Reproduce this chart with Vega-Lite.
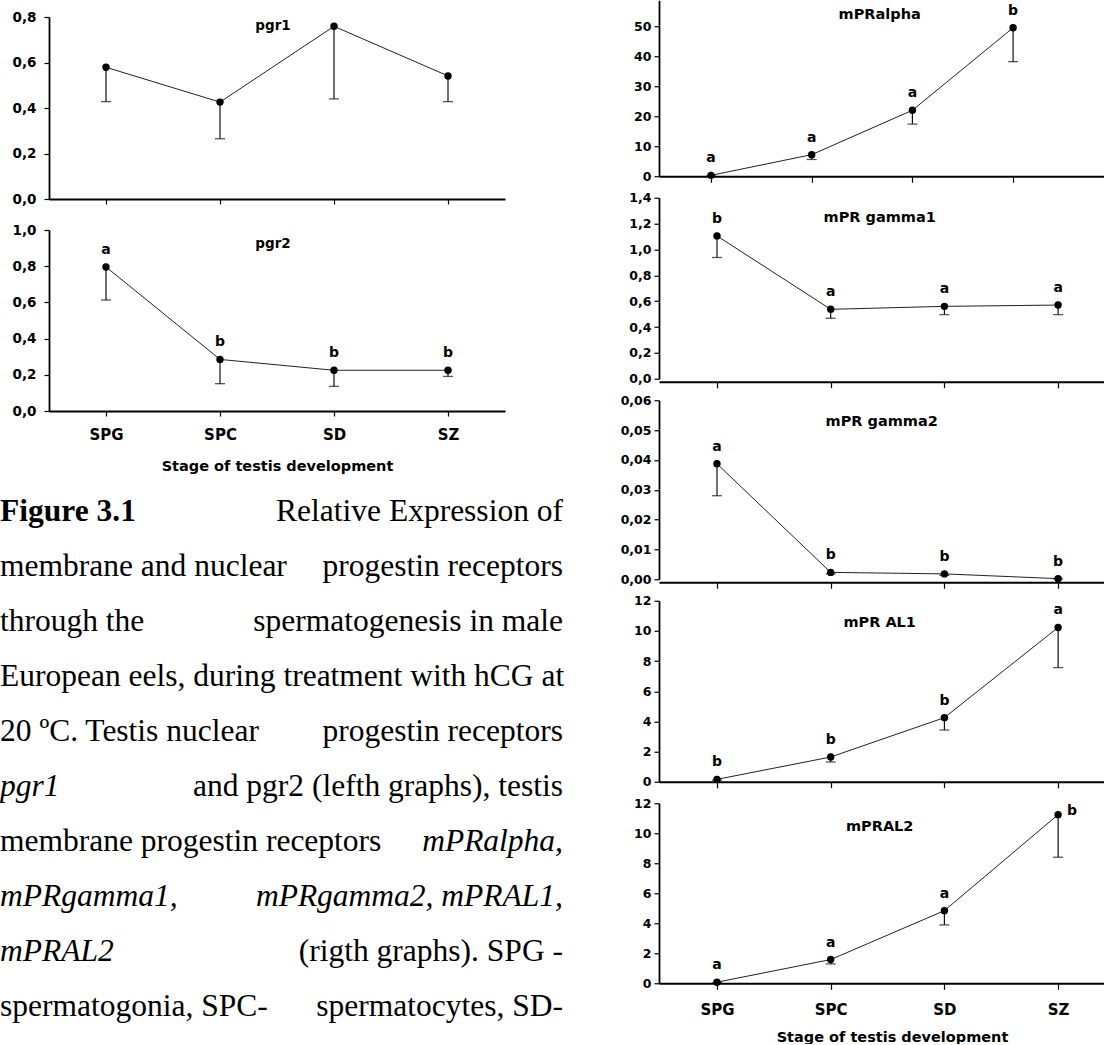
{
  "$schema": "https://vega.github.io/schema/vega-lite/v6.json",
  "padding": 0,
  "background": "white",
  "datasets": {
    "expr": [
      {"gene": "pgr1", "stage": "SPG", "mean": 0.579, "lower": 0.428, "letter": ""},
      {"gene": "pgr1", "stage": "SPC", "mean": 0.426, "lower": 0.265, "letter": ""},
      {"gene": "pgr1", "stage": "SD", "mean": 0.759, "lower": 0.44, "letter": ""},
      {"gene": "pgr1", "stage": "SZ", "mean": 0.541, "lower": 0.428, "letter": ""},
      {"gene": "pgr2", "stage": "SPG", "mean": 0.796, "lower": 0.613, "letter": "a"},
      {"gene": "pgr2", "stage": "SPC", "mean": 0.285, "lower": 0.151, "letter": "b"},
      {"gene": "pgr2", "stage": "SD", "mean": 0.225, "lower": 0.136, "letter": "b"},
      {"gene": "pgr2", "stage": "SZ", "mean": 0.225, "lower": 0.191, "letter": "b"},
      {"gene": "mPRalpha", "stage": "SPG", "mean": 0.3, "lower": 0.1, "letter": "a"},
      {"gene": "mPRalpha", "stage": "SPC", "mean": 7.2, "lower": 5.6, "letter": "a"},
      {"gene": "mPRalpha", "stage": "SD", "mean": 22.0, "lower": 17.4, "letter": "a"},
      {"gene": "mPRalpha", "stage": "SZ", "mean": 49.5, "lower": 38.2, "letter": "b"},
      {"gene": "mPR gamma1", "stage": "SPG", "mean": 1.105, "lower": 0.938, "letter": "b"},
      {"gene": "mPR gamma1", "stage": "SPC", "mean": 0.537, "lower": 0.468, "letter": "a"},
      {"gene": "mPR gamma1", "stage": "SD", "mean": 0.56, "lower": 0.496, "letter": "a"},
      {"gene": "mPR gamma1", "stage": "SZ", "mean": 0.57, "lower": 0.496, "letter": "a"},
      {"gene": "mPR gamma2", "stage": "SPG", "mean": 0.0387, "lower": 0.028, "letter": "a"},
      {"gene": "mPR gamma2", "stage": "SPC", "mean": 0.0023, "lower": 0.0018, "letter": "b"},
      {"gene": "mPR gamma2", "stage": "SD", "mean": 0.0018, "lower": 0.0013, "letter": "b"},
      {"gene": "mPR gamma2", "stage": "SZ", "mean": 0.0002, "lower": 0.0001, "letter": "b"},
      {"gene": "mPR AL1", "stage": "SPG", "mean": 0.16, "lower": 0.1, "letter": "b"},
      {"gene": "mPR AL1", "stage": "SPC", "mean": 1.64, "lower": 1.31, "letter": "b"},
      {"gene": "mPR AL1", "stage": "SD", "mean": 4.25, "lower": 3.43, "letter": "b"},
      {"gene": "mPR AL1", "stage": "SZ", "mean": 10.23, "lower": 7.57, "letter": "a"},
      {"gene": "mPRAL2", "stage": "SPG", "mean": 0.07, "lower": 0.03, "letter": "a"},
      {"gene": "mPRAL2", "stage": "SPC", "mean": 1.58, "lower": 1.29, "letter": "a"},
      {"gene": "mPRAL2", "stage": "SD", "mean": 4.84, "lower": 3.89, "letter": "a"},
      {"gene": "mPRAL2", "stage": "SZ", "mean": 11.24, "lower": 8.4, "letter": "b"}
    ],
    "caption": [
      {"line": 1, "part": "start", "role": "label", "text": "Figure 3.1"},
      {"line": 1, "part": "end", "role": "text", "text": "Relative Expression of"},
      {"line": 2, "part": "start", "role": "text", "text": "membrane and nuclear"},
      {"line": 2, "part": "end", "role": "text", "text": "progestin receptors"},
      {"line": 3, "part": "start", "role": "text", "text": "through the"},
      {"line": 3, "part": "end", "role": "text", "text": "spermatogenesis in male"},
      {"line": 4, "part": "start", "role": "text", "text": "European eels, during treatment with hCG at"},
      {"line": 5, "part": "start", "role": "text", "text": "20 ºC. Testis nuclear"},
      {"line": 5, "part": "end", "role": "text", "text": "progestin receptors"},
      {"line": 6, "part": "start", "role": "gene", "text": "pgr1"},
      {"line": 6, "part": "end", "role": "text", "text": "and pgr2 (lefth graphs), testis"},
      {"line": 7, "part": "start", "role": "text", "text": "membrane progestin receptors"},
      {"line": 7, "part": "end", "role": "gene", "text": "mPRalpha,"},
      {"line": 8, "part": "start", "role": "gene", "text": "mPRgamma1,"},
      {"line": 8, "part": "end", "role": "gene", "text": "mPRgamma2, mPRAL1,"},
      {"line": 9, "part": "start", "role": "gene", "text": "mPRAL2"},
      {"line": 9, "part": "end", "role": "text", "text": "(rigth graphs). SPG -"},
      {"line": 10, "part": "start", "role": "text", "text": "spermatogonia, SPC-"},
      {"line": 10, "part": "end", "role": "text", "text": "spermatocytes, SD-"}
    ]
  },
  "spacing": 49,
  "center": true,
  "hconcat": [
    {
      "spacing": 17,
      "vconcat": [
        {
          "width": 456, "height": 182,
          "data": {"name": "expr"},
          "transform": [{"filter": "datum.gene === 'pgr1'"}],
          "encoding": {
            "x": {"field": "stage", "type": "ordinal", "sort": ["SPG", "SPC", "SD", "SZ"], "scale": {"type": "point", "padding": 0.5}, "axis": {"labels": false, "title": null, "tickSize": 5}},
            "y": {"field": "mean", "type": "quantitative", "scale": {"domain": [0, 0.8], "nice": false}, "axis": {"values": [0, 0.2, 0.4, 0.6, 0.8], "format": ".1f", "title": null, "labelFontSize": 13.5, "minExtent": 49, "maxExtent": 49, "tickSize": 5, "labelPadding": 8}}
          },
          "layer": [
            {"mark": {"type": "line", "color": "#222", "strokeWidth": 1}, "encoding": {}},
            {"mark": {"type": "rule", "color": "#111", "strokeWidth": 1.2}, "encoding": {"y2": {"field": "lower"}}},
            {"mark": {"type": "tick", "color": "#111", "thickness": 1.3, "size": 10}, "encoding": {"y": {"field": "lower", "type": "quantitative"}}},
            {"mark": {"type": "circle", "color": "#000", "size": 55, "opacity": 1}, "encoding": {}},
            {"transform": [{"filter": "datum.stage === 'SPC'"}], "mark": {"type": "text", "font": "DejaVu Sans", "fontWeight": "bold", "fontSize": 13.5, "color": "#000", "align": "center", "baseline": "middle", "dx": 53, "dy": 9}, "encoding": {"y": {"datum": 0.8}, "text": {"field": "gene"}}}
          ]
        },
        {
          "width": 456, "height": 181,
          "data": {"name": "expr"},
          "transform": [{"filter": "datum.gene === 'pgr2'"}],
          "encoding": {
            "x": {"field": "stage", "type": "ordinal", "sort": ["SPG", "SPC", "SD", "SZ"], "scale": {"type": "point", "padding": 0.5}, "axis": {"title": "Stage of testis development", "labelAngle": 0, "labelFontSize": 15, "titleFontSize": 14.5, "tickSize": 5, "labelPadding": 11, "titlePadding": 17}},
            "y": {"field": "mean", "type": "quantitative", "scale": {"domain": [0, 1.0], "nice": false}, "axis": {"values": [0, 0.2, 0.4, 0.6, 0.8, 1.0], "format": ".1f", "title": null, "labelFontSize": 13.5, "minExtent": 49, "maxExtent": 49, "tickSize": 5, "labelPadding": 8}}
          },
          "layer": [
            {"mark": {"type": "line", "color": "#222", "strokeWidth": 1}, "encoding": {}},
            {"mark": {"type": "rule", "color": "#111", "strokeWidth": 1.2}, "encoding": {"y2": {"field": "lower"}}},
            {"mark": {"type": "tick", "color": "#111", "thickness": 1.3, "size": 10}, "encoding": {"y": {"field": "lower", "type": "quantitative"}}},
            {"mark": {"type": "circle", "color": "#000", "size": 55, "opacity": 1}, "encoding": {}},
            {"mark": {"type": "text", "font": "DejaVu Sans", "fontWeight": "bold", "fontSize": 14, "dy": -17, "color": "#000"}, "encoding": {"text": {"field": "letter"}}},
            {"transform": [{"filter": "datum.stage === 'SPC'"}], "mark": {"type": "text", "font": "DejaVu Sans", "fontWeight": "bold", "fontSize": 13.5, "color": "#000", "align": "center", "baseline": "middle", "dx": 53, "dy": 14}, "encoding": {"y": {"datum": 1.0}, "text": {"field": "gene"}}}
          ]
        },
        {
          "width": 508, "height": 537,
          "data": {"name": "caption"},
          "encoding": {
            "x": {"field": "part", "type": "nominal", "scale": {"type": "point", "domain": ["start", "end"], "range": [-49, 514], "padding": 0}, "axis": null},
            "y": {"field": "line", "type": "ordinal", "scale": {"type": "point", "padding": 0.382, "align": 0.738}, "axis": null},
            "text": {"field": "text"}
          },
          "layer": [
            {"transform": [{"filter": "datum.part === 'start' && datum.role === 'label'"}], "mark": {"type": "text", "align": "left", "baseline": "alphabetic", "font": "Liberation Serif", "fontSize": 31.5, "fontWeight": "bold", "color": "#000"}},
            {"transform": [{"filter": "datum.part === 'start' && datum.role === 'text'"}], "mark": {"type": "text", "align": "left", "baseline": "alphabetic", "font": "Liberation Serif", "fontSize": 31.5, "color": "#000"}},
            {"transform": [{"filter": "datum.part === 'start' && datum.role === 'gene'"}], "mark": {"type": "text", "align": "left", "baseline": "alphabetic", "font": "Liberation Serif", "fontSize": 31.5, "fontStyle": "italic", "color": "#000"}},
            {"transform": [{"filter": "datum.part === 'end' && datum.role === 'text'"}], "mark": {"type": "text", "align": "right", "baseline": "alphabetic", "font": "Liberation Serif", "fontSize": 31.5, "color": "#000"}},
            {"transform": [{"filter": "datum.part === 'end' && datum.role === 'gene'"}], "mark": {"type": "text", "align": "right", "baseline": "alphabetic", "font": "Liberation Serif", "fontSize": 31.5, "fontStyle": "italic", "color": "#000"}}
          ]
        }
      ]
    },
    {
      "spacing": 21.5,
      "bounds": "flush",
      "vconcat": [
        {
          "width": 448, "height": 176,
          "data": {"name": "expr"},
          "transform": [{"filter": "datum.gene === 'mPRalpha'"}],
          "encoding": {
            "x": {"field": "stage", "type": "ordinal", "sort": ["SPG", "SPC", "SD", "SZ"], "scale": {"type": "point", "padding": 0.7244, "align": 0.3564}, "axis": {"labels": false, "title": null, "tickSize": 6}},
            "y": {"field": "mean", "type": "quantitative", "scale": {"domain": [0, 58.67], "nice": false}, "axis": {"values": [0, 10, 20, 30, 40, 50], "format": "d", "title": null, "labelFontSize": 12.5, "minExtent": 45, "maxExtent": 45, "tickSize": 5, "labelPadding": 3}}
          },
          "layer": [
            {"mark": {"type": "line", "color": "#222", "strokeWidth": 1}, "encoding": {}},
            {"mark": {"type": "rule", "color": "#111", "strokeWidth": 1.2}, "encoding": {"y2": {"field": "lower"}}},
            {"mark": {"type": "tick", "color": "#111", "thickness": 1.3, "size": 10}, "encoding": {"y": {"field": "lower", "type": "quantitative"}}},
            {"mark": {"type": "circle", "color": "#000", "size": 55, "opacity": 1}, "encoding": {}},
            {"mark": {"type": "text", "font": "DejaVu Sans", "fontWeight": "bold", "fontSize": 14, "dy": -17, "color": "#000"}, "encoding": {"text": {"field": "letter"}}},
            {"transform": [{"filter": "datum.stage === 'SPC'"}], "mark": {"type": "text", "font": "DejaVu Sans", "fontWeight": "bold", "fontSize": 14.5, "color": "#000", "align": "center", "baseline": "middle", "dx": 68, "dy": 15}, "encoding": {"y": {"datum": 58.67}, "text": {"field": "gene"}}}
          ]
        },
        {
          "width": 448, "height": 181,
          "data": {"name": "expr"},
          "transform": [{"filter": "datum.gene === 'mPR gamma1'"}],
          "encoding": {
            "x": {"field": "stage", "type": "ordinal", "sort": ["SPG", "SPC", "SD", "SZ"], "scale": {"type": "point", "padding": 0.47, "align": 0.5426}, "axis": {"labels": false, "title": null, "tickSize": 6, "offset": 3}},
            "y": {"field": "mean", "type": "quantitative", "scale": {"domain": [0, 1.4], "nice": false}, "axis": {"values": [0, 0.2, 0.4, 0.6, 0.8, 1.0, 1.2, 1.4], "format": ".1f", "title": null, "labelFontSize": 12.5, "minExtent": 45, "maxExtent": 45, "tickSize": 5, "labelPadding": 3}}
          },
          "layer": [
            {"mark": {"type": "line", "color": "#222", "strokeWidth": 1}, "encoding": {}},
            {"mark": {"type": "rule", "color": "#111", "strokeWidth": 1.2}, "encoding": {"y2": {"field": "lower"}}},
            {"mark": {"type": "tick", "color": "#111", "thickness": 1.3, "size": 10}, "encoding": {"y": {"field": "lower", "type": "quantitative"}}},
            {"mark": {"type": "circle", "color": "#000", "size": 55, "opacity": 1}, "encoding": {}},
            {"mark": {"type": "text", "font": "DejaVu Sans", "fontWeight": "bold", "fontSize": 14, "dy": -17, "color": "#000"}, "encoding": {"text": {"field": "letter"}}},
            {"transform": [{"filter": "datum.stage === 'SPC'"}], "mark": {"type": "text", "font": "DejaVu Sans", "fontWeight": "bold", "fontSize": 14.5, "color": "#000", "align": "center", "baseline": "middle", "dx": 49, "dy": 20.5}, "encoding": {"y": {"datum": 1.4}, "text": {"field": "gene"}}}
          ]
        },
        {
          "width": 448, "height": 179,
          "data": {"name": "expr"},
          "transform": [{"filter": "datum.gene === 'mPR gamma2'"}],
          "encoding": {
            "x": {"field": "stage", "type": "ordinal", "sort": ["SPG", "SPC", "SD", "SZ"], "scale": {"type": "point", "padding": 0.47, "align": 0.5426}, "axis": {"labels": false, "title": null, "tickSize": 6, "offset": 3}},
            "y": {"field": "mean", "type": "quantitative", "scale": {"domain": [0, 0.06], "nice": false}, "axis": {"values": [0, 0.01, 0.02, 0.03, 0.04, 0.05, 0.06], "format": ".2f", "title": null, "labelFontSize": 12.5, "minExtent": 45, "maxExtent": 45, "tickSize": 5, "labelPadding": 3}}
          },
          "layer": [
            {"mark": {"type": "line", "color": "#222", "strokeWidth": 1}, "encoding": {}},
            {"mark": {"type": "rule", "color": "#111", "strokeWidth": 1.2}, "encoding": {"y2": {"field": "lower"}}},
            {"mark": {"type": "tick", "color": "#111", "thickness": 1.3, "size": 10}, "encoding": {"y": {"field": "lower", "type": "quantitative"}}},
            {"mark": {"type": "circle", "color": "#000", "size": 55, "opacity": 1}, "encoding": {}},
            {"mark": {"type": "text", "font": "DejaVu Sans", "fontWeight": "bold", "fontSize": 14, "dy": -17, "color": "#000"}, "encoding": {"text": {"field": "letter"}}},
            {"transform": [{"filter": "datum.stage === 'SPC'"}], "mark": {"type": "text", "font": "DejaVu Sans", "fontWeight": "bold", "fontSize": 14.5, "color": "#000", "align": "center", "baseline": "middle", "dx": 51, "dy": 22}, "encoding": {"y": {"datum": 0.06}, "text": {"field": "gene"}}}
          ]
        },
        {
          "width": 448, "height": 181,
          "data": {"name": "expr"},
          "transform": [{"filter": "datum.gene === 'mPR AL1'"}],
          "encoding": {
            "x": {"field": "stage", "type": "ordinal", "sort": ["SPG", "SPC", "SD", "SZ"], "scale": {"type": "point", "padding": 0.47, "align": 0.5426}, "axis": {"labels": false, "title": null, "tickSize": 6}},
            "y": {"field": "mean", "type": "quantitative", "scale": {"domain": [0, 12], "nice": false}, "axis": {"values": [0, 2, 4, 6, 8, 10, 12], "format": "d", "title": null, "labelFontSize": 12.5, "minExtent": 45, "maxExtent": 45, "tickSize": 5, "labelPadding": 3}}
          },
          "layer": [
            {"mark": {"type": "line", "color": "#222", "strokeWidth": 1}, "encoding": {}},
            {"mark": {"type": "rule", "color": "#111", "strokeWidth": 1.2}, "encoding": {"y2": {"field": "lower"}}},
            {"mark": {"type": "tick", "color": "#111", "thickness": 1.3, "size": 10}, "encoding": {"y": {"field": "lower", "type": "quantitative"}}},
            {"mark": {"type": "circle", "color": "#000", "size": 55, "opacity": 1}, "encoding": {}},
            {"mark": {"type": "text", "font": "DejaVu Sans", "fontWeight": "bold", "fontSize": 14, "dy": -17, "color": "#000"}, "encoding": {"text": {"field": "letter"}}},
            {"transform": [{"filter": "datum.stage === 'SPC'"}], "mark": {"type": "text", "font": "DejaVu Sans", "fontWeight": "bold", "fontSize": 14.5, "color": "#000", "align": "center", "baseline": "middle", "dx": 49, "dy": 22.5}, "encoding": {"y": {"datum": 12}, "text": {"field": "gene"}}}
          ]
        },
        {
          "width": 448, "height": 180,
          "data": {"name": "expr"},
          "transform": [{"filter": "datum.gene === 'mPRAL2'"}],
          "encoding": {
            "x": {"field": "stage", "type": "ordinal", "sort": ["SPG", "SPC", "SD", "SZ"], "scale": {"type": "point", "padding": 0.47, "align": 0.5426}, "axis": {"title": "Stage of testis development", "labelAngle": 0, "labelFontSize": 15, "titleFontSize": 14.5, "tickSize": 6, "labelPadding": 13, "titlePadding": 13, "titleX": 233}},
            "y": {"field": "mean", "type": "quantitative", "scale": {"domain": [0, 12], "nice": false}, "axis": {"values": [0, 2, 4, 6, 8, 10, 12], "format": "d", "title": null, "labelFontSize": 12.5, "minExtent": 45, "maxExtent": 45, "tickSize": 5, "labelPadding": 3}}
          },
          "layer": [
            {"mark": {"type": "line", "color": "#222", "strokeWidth": 1}, "encoding": {}},
            {"mark": {"type": "rule", "color": "#111", "strokeWidth": 1.2}, "encoding": {"y2": {"field": "lower"}}},
            {"mark": {"type": "tick", "color": "#111", "thickness": 1.3, "size": 10}, "encoding": {"y": {"field": "lower", "type": "quantitative"}}},
            {"mark": {"type": "circle", "color": "#000", "size": 55, "opacity": 1}, "encoding": {}},
            {"transform": [{"filter": "datum.stage !== 'SZ'"}], "mark": {"type": "text", "font": "DejaVu Sans", "fontWeight": "bold", "fontSize": 14, "dy": -17, "color": "#000"}, "encoding": {"text": {"field": "letter"}}},
            {"transform": [{"filter": "datum.stage === 'SZ'"}], "mark": {"type": "text", "font": "DejaVu Sans", "fontWeight": "bold", "fontSize": 14, "dx": 14, "dy": -4, "color": "#000"}, "encoding": {"text": {"field": "letter"}}},
            {"transform": [{"filter": "datum.stage === 'SPC'"}], "mark": {"type": "text", "font": "DejaVu Sans", "fontWeight": "bold", "fontSize": 14.5, "color": "#000", "align": "center", "baseline": "middle", "dx": 49, "dy": 24}, "encoding": {"y": {"datum": 12}, "text": {"field": "gene"}}}
          ]
        }
      ]
    }
  ],
  "config": {
    "locale": {"number": {"decimal": ",", "thousands": ".", "grouping": [3], "currency": ["", "€"]}},
    "view": {"stroke": null},
    "axis": {"grid": false, "domainColor": "#000", "domainWidth": 1.8, "tickColor": "#000", "tickWidth": 1.2, "labelColor": "#000", "labelFont": "DejaVu Sans", "labelFontWeight": "bold", "titleFont": "DejaVu Sans", "titleFontWeight": "bold", "titleColor": "#000", "labelFlush": false, "labelOverlap": false}
  }
}
